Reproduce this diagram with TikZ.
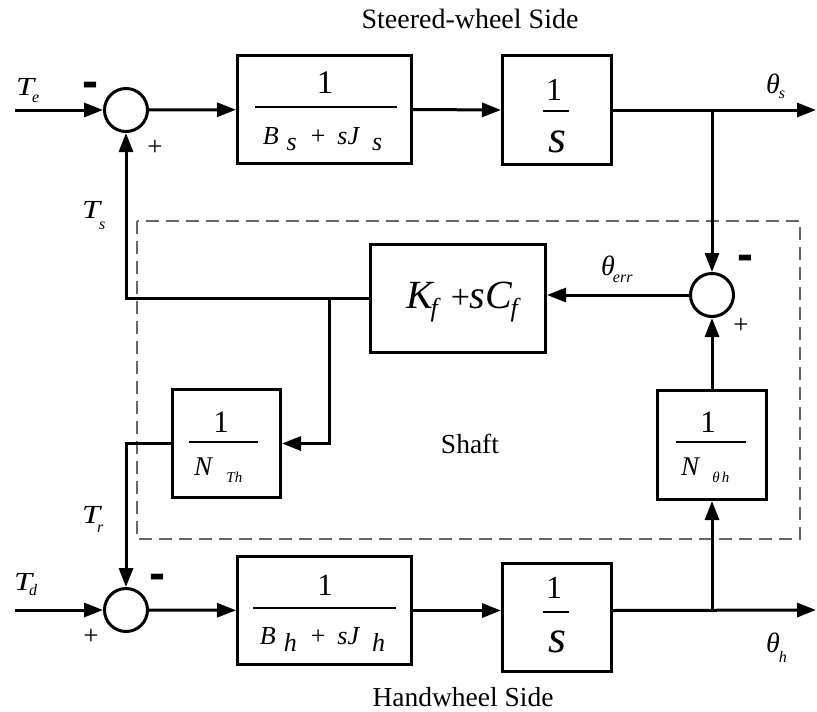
\documentclass[tikz,border=0pt]{standalone}
\usepackage{fontspec}
\setmainfont{Liberation Serif}
\newfontfamily\signfont{Liberation Sans}
\usetikzlibrary{arrows.meta}
\newcommand\fs[1]{\fontsize{#1}{#1}\selectfont}
\newcommand\wideT{\scalebox{1.25}[1]{\textit{T}}}
% symbol with a lowered subscript: base, kern, drop, subscript
\newcommand\sub[4]{#1\kern#2\raisebox{-#3}{\fs{16}\textit{#4}}}
\begin{document}
\begin{tikzpicture}[x=1pt,y=-1pt,
  every node/.style={font=\fs{27}},
  blk/.style={draw,line width=3pt,inner sep=0pt},
  sumnode/.style={draw,circle,line width=3pt,minimum size=43pt,inner sep=0pt},
  conn/.style={line width=3pt},
  arr/.style={conn,-{Triangle[length=19pt,width=14pt]}},
  bar/.style={line width=1.6pt},
  txt/.style={inner sep=0pt,anchor=base},
  lab/.style={inner sep=0pt,anchor=base west},
  minus/.style={inner sep=0pt,anchor=base,font=\signfont\bfseries\fs{48}},
  plus/.style={inner sep=0pt,anchor=base,font=\fs{27}},
  shaftbox/.style={draw=black!60,line width=2pt,dash pattern=on 13pt off 7pt}]
\useasboundingbox (0,0) rectangle (817,712);

% shaft region
\draw[shaftbox] (137,221) rectangle (800,539);

% summing junctions
\node[sumnode] (s1) at (126,110) {};
\node[sumnode] (s2) at (712,295) {};
\node[sumnode] (s3) at (126,610) {};

% blocks
\node[blk,minimum width=174pt,minimum height=108pt] (b1) at (324.5,109.5) {};
\node[blk,minimum width=109pt,minimum height=109pt] (i1) at (557,110) {};
\node[blk,minimum width=175pt,minimum height=108pt] (kf) at (458,298.5) {};
\node[blk,minimum width=108pt,minimum height=108pt] (nth) at (226.5,443.5) {};
\node[blk,minimum width=109pt,minimum height=109pt] (noh) at (712,445) {};
\node[blk,minimum width=174pt,minimum height=108pt] (b2) at (324.5,610.5) {};
\node[blk,minimum width=109pt,minimum height=108pt] (i2) at (557,617.5) {};

% block contents
\node[txt] (b1num) at (325,93) {\fs{33}1};
\draw[bar] (255,107) -- (397,107);
\node[txt] (b1den) at (322.5,144) {\fs{26}\textit{B}\kern8pt\raisebox{-6pt}{\textit{s}}\kern14pt+\kern12pt\textit{sJ}\kern12pt\raisebox{-6pt}{\textit{s}}};

\node[txt] (i1num) at (554,100) {\fs{32}1};
\draw[bar] (543,111) -- (569,111);
\node[txt] (i1den) at (557,152) {\fs{46}\textit{s}};

\node[lab] (kft) at (406,308) {\fs{40}\textit{K}\kern-4pt\raisebox{-8pt}{\fs{26}\textit{f}}\kern10pt{\fs{34}+}\textit{sC}\kern-2pt\raisebox{-8pt}{\fs{26}\textit{f}}};

\node[txt] (nthnum) at (221,432) {\fs{31}1};
\draw[bar] (189,442) -- (258,442);
\node[lab] (nthden) at (194,475) {\fs{27}\textit{N}\kern13pt\raisebox{-7pt}{\fs{15}\textit{Th}}};

\node[txt] (nohnum) at (708,432) {\fs{31}1};
\draw[bar] (676,442) -- (746,442);
\node[lab] (nohden) at (681,475) {\fs{27}\textit{N}\kern12pt\raisebox{-7pt}{\fs{15}\textit{θ\kern2pt h}}};

\node[txt] (b2num) at (325,595) {\fs{31}1};
\draw[bar] (253,608) -- (396,608);
\node[txt] (b2den) at (322.5,644) {\fs{26}\textit{B}\kern8pt\raisebox{-7pt}{\textit{h}}\kern14pt+\kern12pt\textit{sJ}\kern12pt\raisebox{-7pt}{\textit{h}}};

\node[txt] (i2num) at (554,598) {\fs{32}1};
\draw[bar] (543,612) -- (569,612);
\node[txt] (i2den) at (557,652) {\fs{46}\textit{s}};

% signal labels
\node[lab] (te) at (16,95) {\fs{26}\sub{\wideT}{-4pt}{7pt}{e}};
\node[lab] (ts) at (82,218) {\fs{26}\sub{\wideT}{-3pt}{11pt}{s}};
\node[lab] (tr) at (82,523) {\fs{26}\sub{\wideT}{-5pt}{9pt}{r}};
\node[lab] (td) at (14,590) {\fs{26}\sub{\wideT}{-5pt}{5pt}{d}};
\node[lab] (ths) at (766,93) {\fs{28}\sub{\textit{θ}}{-1pt}{5pt}{s}};
\node[lab] (therr) at (601,275) {\fs{28}\sub{\textit{θ}}{-2pt}{7pt}{err}};
\node[lab] (thh) at (766,652) {\fs{28}\sub{\textit{θ}}{-1pt}{10pt}{h}};

% signs at the junctions
\node[minus] (m1) at (90.5,97) {-};
\node[plus] (p1) at (155,155) {+};
\node[minus] (m2) at (745,270) {-};
\node[plus] (p2) at (741,333) {+};
\node[minus] (m3) at (157,589) {-};
\node[plus] (p3) at (91,644) {+};

% region titles
\node[txt,font=\fs{28}] (toptitle) at (470,28) {Steered-wheel Side};
\node[txt,font=\fs{27.5}] (bottitle) at (463,706) {Handwheel Side};
\node[txt,font=\fs{27.5}] (shaft) at (470,453) {Shaft};

% connectors
\coordinate (tein) at (15,110);
\coordinate (tdin) at (15,610);
\coordinate (thsout) at (816,110);
\coordinate (thhout) at (816,610);
\coordinate (j1) at (712,110);
\coordinate (j2) at (712,610);
\coordinate (jk) at (329,298.5);

\draw[arr] (tein) -- (s1);
\draw[arr] (s1) -- (b1);
\draw[arr] (b1.east) -- (i1.west);
\draw[arr] (i1.east) -- (thsout);
\draw[arr] (j1) -- (s2);
\draw[arr] (s2.west) -- (s2.west -| kf.east);
\draw[arr] (kf.west) -| (s1.south);
\draw[arr] (jk) |- (nth.east);
\draw[arr] (nth.west) -| (s3.north);
\draw[arr] (tdin) -- (s3);
\draw[arr] (s3) -- (b2);
\draw[arr] (b2.east) -- (b2.east -| i2.west);
\draw[arr] (b2.east -| i2.east) -- (thhout);
\draw[arr] (j2) -- (noh.south);
\draw[arr] (noh.north) -- (s2.south);
\end{tikzpicture}
\end{document}
